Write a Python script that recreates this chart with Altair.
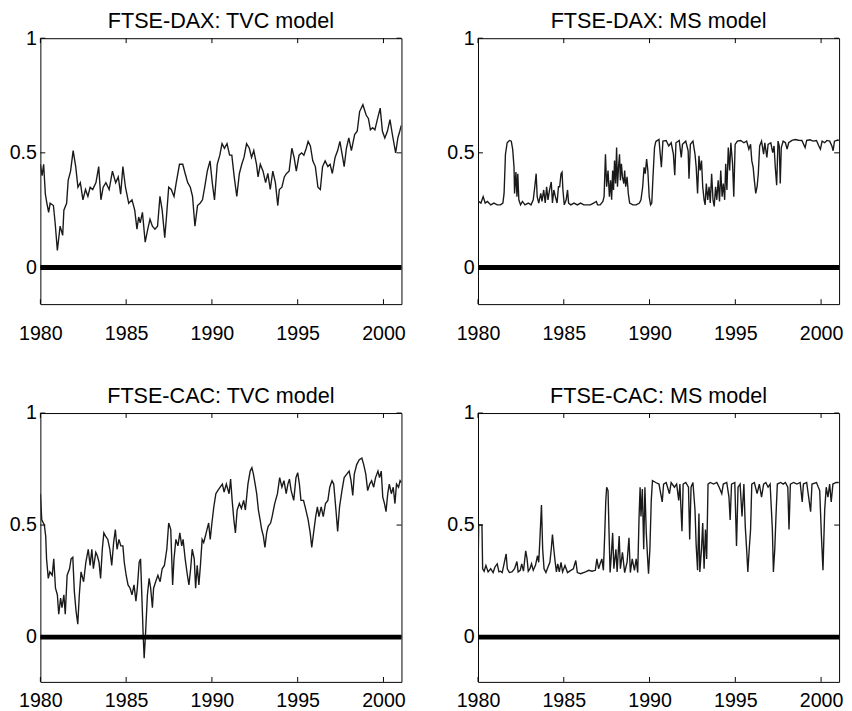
import altair as alt
import pandas as pd

FONT = "Liberation Sans"

# ---------------- data (year, value) ----------------
dax_tvc_points = [
    (1980.00, 0.45), (1980.10, 0.40), (1980.19, 0.45), (1980.29, 0.32), (1980.38, 0.28),
    (1980.48, 0.24), (1980.57, 0.28), (1980.76, 0.27), (1980.86, 0.195), (1980.99, 0.074),
    (1981.15, 0.18), (1981.30, 0.14), (1981.37, 0.25), (1981.53, 0.28), (1981.62, 0.38),
    (1981.76, 0.42), (1981.91, 0.51), (1982.06, 0.44), (1982.19, 0.35), (1982.33, 0.37),
    (1982.48, 0.295), (1982.63, 0.34), (1982.77, 0.31), (1982.90, 0.35), (1983.05, 0.34),
    (1983.24, 0.37), (1983.40, 0.44), (1983.53, 0.295), (1983.66, 0.35), (1983.82, 0.37),
    (1984.01, 0.34), (1984.20, 0.42), (1984.39, 0.37), (1984.54, 0.395), (1984.68, 0.32),
    (1984.81, 0.44), (1984.96, 0.35), (1985.15, 0.28), (1985.34, 0.295), (1985.50, 0.25),
    (1985.63, 0.167), (1985.73, 0.22), (1985.82, 0.195), (1985.95, 0.24), (1986.11, 0.11),
    (1986.26, 0.167), (1986.39, 0.21), (1986.53, 0.18), (1986.68, 0.167), (1986.83, 0.18),
    (1986.97, 0.31), (1987.10, 0.25), (1987.25, 0.13), (1987.35, 0.22), (1987.48, 0.35),
    (1987.63, 0.34), (1987.79, 0.31), (1987.92, 0.37), (1988.11, 0.45), (1988.30, 0.45),
    (1988.44, 0.41), (1988.59, 0.37), (1988.74, 0.35), (1988.87, 0.31), (1989.01, 0.18),
    (1989.16, 0.27), (1989.31, 0.28), (1989.45, 0.295), (1989.58, 0.35), (1989.73, 0.42),
    (1989.89, 0.465), (1990.02, 0.37), (1990.15, 0.295), (1990.31, 0.45), (1990.46, 0.49),
    (1990.59, 0.54), (1990.73, 0.52), (1990.88, 0.54), (1991.03, 0.49), (1991.16, 0.49),
    (1991.30, 0.395), (1991.45, 0.31), (1991.60, 0.41), (1991.74, 0.45), (1991.87, 0.48),
    (1992.02, 0.54), (1992.18, 0.52), (1992.31, 0.48), (1992.44, 0.51), (1992.60, 0.45),
    (1992.69, 0.395), (1992.82, 0.45), (1992.98, 0.42), (1993.13, 0.37), (1993.26, 0.41),
    (1993.40, 0.34), (1993.55, 0.42), (1993.70, 0.37), (1993.84, 0.27), (1993.93, 0.34),
    (1994.08, 0.35), (1994.22, 0.395), (1994.35, 0.41), (1994.50, 0.42), (1994.66, 0.52),
    (1994.79, 0.48), (1994.92, 0.42), (1995.08, 0.49), (1995.23, 0.50), (1995.36, 0.49),
    (1995.50, 0.52), (1995.61, 0.55), (1995.74, 0.53), (1995.88, 0.465), (1996.03, 0.44),
    (1996.18, 0.35), (1996.32, 0.34), (1996.45, 0.44), (1996.60, 0.465), (1996.76, 0.44),
    (1996.89, 0.45), (1997.02, 0.41), (1997.18, 0.48), (1997.33, 0.51), (1997.46, 0.55),
    (1997.60, 0.49), (1997.71, 0.44), (1997.84, 0.52), (1997.98, 0.565), (1998.13, 0.51),
    (1998.32, 0.58), (1998.47, 0.594), (1998.61, 0.68), (1998.80, 0.71), (1998.99, 0.665),
    (1999.12, 0.65), (1999.24, 0.60), (1999.37, 0.61), (1999.50, 0.60), (1999.66, 0.65),
    (1999.81, 0.695), (1999.94, 0.594), (2000.08, 0.565), (2000.23, 0.594), (2000.38, 0.645),
    (2000.52, 0.58), (2000.71, 0.50), (2000.84, 0.565), (2000.95, 0.594), (2001.04, 0.62),
]

dax_ms_points = [
    (1980.00, 0.288), (1980.04, 0.288), (1980.17, 0.281), (1980.30, 0.309), (1980.42, 0.281),
    (1980.55, 0.288), (1980.74, 0.273), (1980.93, 0.281), (1981.12, 0.273), (1981.31, 0.273),
    (1981.45, 0.281), (1981.52, 0.323), (1981.60, 0.494), (1981.70, 0.544), (1981.83, 0.554),
    (1981.94, 0.551), (1982.02, 0.516), (1982.10, 0.437), (1982.13, 0.323), (1982.21, 0.416),
    (1982.27, 0.309), (1982.32, 0.409), (1982.38, 0.295), (1982.48, 0.273), (1982.59, 0.288),
    (1982.74, 0.273), (1982.93, 0.281), (1983.09, 0.273), (1983.22, 0.295), (1983.31, 0.352),
    (1983.39, 0.409), (1983.45, 0.309), (1983.54, 0.281), (1983.66, 0.323), (1983.73, 0.288),
    (1983.83, 0.338), (1983.92, 0.281), (1984.00, 0.352), (1984.08, 0.295), (1984.17, 0.338),
    (1984.27, 0.373), (1984.34, 0.281), (1984.42, 0.338), (1984.51, 0.309), (1984.61, 0.281),
    (1984.69, 0.352), (1984.76, 0.352), (1984.84, 0.409), (1984.90, 0.416), (1984.95, 0.338),
    (1985.03, 0.273), (1985.14, 0.295), (1985.22, 0.338), (1985.28, 0.281), (1985.41, 0.273),
    (1985.60, 0.281), (1985.79, 0.273), (1985.98, 0.281), (1986.17, 0.273), (1986.36, 0.273),
    (1986.55, 0.273), (1986.74, 0.281), (1986.90, 0.288), (1986.97, 0.273), (1987.12, 0.273),
    (1987.28, 0.288), (1987.35, 0.309), (1987.43, 0.494), (1987.50, 0.352), (1987.58, 0.423),
    (1987.66, 0.309), (1987.73, 0.380), (1987.79, 0.295), (1987.85, 0.423), (1987.90, 0.338),
    (1987.96, 0.466), (1988.02, 0.366), (1988.08, 0.523), (1988.13, 0.352), (1988.19, 0.437),
    (1988.25, 0.494), (1988.30, 0.380), (1988.36, 0.452), (1988.42, 0.395), (1988.50, 0.366),
    (1988.55, 0.423), (1988.61, 0.352), (1988.69, 0.395), (1988.76, 0.323), (1988.84, 0.281),
    (1989.03, 0.273), (1989.22, 0.273), (1989.41, 0.281), (1989.50, 0.295), (1989.60, 0.352),
    (1989.68, 0.437), (1989.75, 0.409), (1989.83, 0.473), (1989.90, 0.423), (1989.98, 0.309),
    (1990.06, 0.273), (1990.13, 0.281), (1990.21, 0.409), (1990.29, 0.523), (1990.36, 0.548),
    (1990.40, 0.551), (1990.55, 0.558), (1990.69, 0.437), (1990.78, 0.551), (1990.97, 0.554),
    (1991.12, 0.530), (1991.26, 0.544), (1991.39, 0.494), (1991.47, 0.402), (1991.54, 0.544),
    (1991.73, 0.554), (1991.85, 0.480), (1991.92, 0.537), (1992.11, 0.551), (1992.25, 0.509),
    (1992.30, 0.387), (1992.38, 0.537), (1992.53, 0.551), (1992.65, 0.494), (1992.72, 0.437),
    (1992.80, 0.323), (1992.88, 0.487), (1992.95, 0.423), (1993.03, 0.466), (1993.10, 0.352),
    (1993.18, 0.295), (1993.24, 0.273), (1993.31, 0.366), (1993.39, 0.295), (1993.47, 0.352),
    (1993.54, 0.281), (1993.62, 0.409), (1993.70, 0.295), (1993.77, 0.266), (1993.85, 0.352),
    (1993.92, 0.295), (1994.00, 0.380), (1994.08, 0.288), (1994.15, 0.423), (1994.23, 0.309),
    (1994.30, 0.366), (1994.38, 0.295), (1994.44, 0.452), (1994.51, 0.338), (1994.59, 0.523),
    (1994.67, 0.423), (1994.74, 0.544), (1994.84, 0.452), (1994.91, 0.309), (1994.99, 0.537),
    (1995.12, 0.551), (1995.31, 0.554), (1995.50, 0.544), (1995.66, 0.551), (1995.79, 0.516),
    (1995.89, 0.537), (1995.96, 0.466), (1996.04, 0.437), (1996.11, 0.380), (1996.19, 0.323),
    (1996.27, 0.352), (1996.34, 0.409), (1996.42, 0.530), (1996.53, 0.551), (1996.65, 0.494),
    (1996.72, 0.544), (1996.84, 0.480), (1996.91, 0.537), (1997.07, 0.544), (1997.18, 0.501),
    (1997.26, 0.530), (1997.33, 0.437), (1997.41, 0.359), (1997.49, 0.551), (1997.56, 0.530),
    (1997.62, 0.366), (1997.68, 0.523), (1997.79, 0.551), (1997.92, 0.544), (1998.02, 0.516),
    (1998.11, 0.544), (1998.30, 0.554), (1998.50, 0.558), (1998.69, 0.555), (1998.88, 0.554),
    (1999.07, 0.523), (1999.16, 0.554), (1999.35, 0.557), (1999.54, 0.551), (1999.73, 0.554),
    (1999.87, 0.530), (1999.96, 0.516), (2000.06, 0.551), (2000.21, 0.544), (2000.34, 0.554),
    (2000.50, 0.551), (2000.63, 0.530), (2000.70, 0.509), (2000.78, 0.551), (2000.97, 0.556),
    (2001.04, 0.554),
]

cac_tvc_points = [
    (1980.00, 0.640), (1980.08, 0.523), (1980.23, 0.501), (1980.31, 0.451), (1980.36, 0.349),
    (1980.46, 0.262), (1980.55, 0.291), (1980.69, 0.276), (1980.78, 0.349), (1980.88, 0.218),
    (1980.99, 0.189), (1981.07, 0.102), (1981.18, 0.174), (1981.26, 0.131), (1981.37, 0.189),
    (1981.45, 0.102), (1981.56, 0.276), (1981.70, 0.305), (1981.79, 0.349), (1981.89, 0.356),
    (1981.98, 0.203), (1982.08, 0.116), (1982.18, 0.058), (1982.27, 0.189), (1982.37, 0.291),
    (1982.52, 0.247), (1982.65, 0.334), (1982.79, 0.392), (1982.90, 0.320), (1983.00, 0.392),
    (1983.09, 0.305), (1983.23, 0.378), (1983.32, 0.363), (1983.42, 0.334), (1983.51, 0.262),
    (1983.61, 0.392), (1983.70, 0.465), (1983.80, 0.451), (1983.93, 0.436), (1984.05, 0.392),
    (1984.16, 0.320), (1984.27, 0.422), (1984.37, 0.480), (1984.47, 0.392), (1984.58, 0.436),
    (1984.69, 0.407), (1984.81, 0.407), (1984.89, 0.334), (1985.00, 0.276), (1985.11, 0.233),
    (1985.23, 0.218), (1985.34, 0.189), (1985.46, 0.233), (1985.57, 0.160), (1985.65, 0.218),
    (1985.76, 0.334), (1985.84, 0.349), (1985.92, 0.174), (1985.99, 0.015), (1986.05, -0.094),
    (1986.13, 0.015), (1986.24, 0.189), (1986.34, 0.262), (1986.43, 0.218), (1986.53, 0.131),
    (1986.60, 0.218), (1986.72, 0.247), (1986.85, 0.276), (1986.98, 0.247), (1987.10, 0.305),
    (1987.23, 0.320), (1987.37, 0.392), (1987.48, 0.509), (1987.60, 0.480), (1987.71, 0.233),
    (1987.79, 0.349), (1987.90, 0.436), (1988.02, 0.407), (1988.13, 0.465), (1988.24, 0.407),
    (1988.32, 0.436), (1988.44, 0.349), (1988.57, 0.276), (1988.66, 0.233), (1988.76, 0.305),
    (1988.85, 0.392), (1988.97, 0.349), (1989.05, 0.218), (1989.14, 0.320), (1989.24, 0.233),
    (1989.33, 0.320), (1989.43, 0.436), (1989.52, 0.422), (1989.62, 0.451), (1989.71, 0.480),
    (1989.81, 0.509), (1989.90, 0.436), (1990.00, 0.509), (1990.11, 0.581), (1990.23, 0.640),
    (1990.34, 0.654), (1990.48, 0.669), (1990.61, 0.683), (1990.71, 0.647), (1990.84, 0.683),
    (1991.00, 0.640), (1991.09, 0.705), (1991.18, 0.610), (1991.28, 0.523), (1991.37, 0.465),
    (1991.47, 0.567), (1991.60, 0.596), (1991.72, 0.574), (1991.85, 0.610), (1991.95, 0.567),
    (1992.10, 0.683), (1992.23, 0.741), (1992.33, 0.756), (1992.42, 0.727), (1992.52, 0.683),
    (1992.61, 0.640), (1992.71, 0.567), (1992.81, 0.523), (1992.90, 0.480), (1993.00, 0.451),
    (1993.09, 0.400), (1993.19, 0.465), (1993.28, 0.494), (1993.42, 0.509), (1993.51, 0.538),
    (1993.66, 0.596), (1993.82, 0.640), (1993.95, 0.712), (1994.08, 0.669), (1994.20, 0.698),
    (1994.33, 0.640), (1994.43, 0.683), (1994.52, 0.705), (1994.62, 0.654), (1994.77, 0.610),
    (1994.90, 0.712), (1995.00, 0.734), (1995.10, 0.683), (1995.19, 0.610), (1995.34, 0.610),
    (1995.48, 0.567), (1995.61, 0.523), (1995.73, 0.465), (1995.82, 0.400), (1995.95, 0.480),
    (1996.05, 0.538), (1996.15, 0.581), (1996.24, 0.538), (1996.37, 0.581), (1996.49, 0.538),
    (1996.62, 0.596), (1996.76, 0.610), (1996.87, 0.669), (1997.00, 0.698), (1997.10, 0.683),
    (1997.23, 0.567), (1997.33, 0.472), (1997.44, 0.581), (1997.58, 0.654), (1997.71, 0.712),
    (1997.86, 0.727), (1998.00, 0.741), (1998.11, 0.698), (1998.21, 0.632), (1998.30, 0.727),
    (1998.44, 0.770), (1998.59, 0.792), (1998.74, 0.799), (1998.85, 0.770), (1998.97, 0.727),
    (1999.08, 0.654), (1999.20, 0.683), (1999.31, 0.698), (1999.43, 0.669), (1999.54, 0.712),
    (1999.68, 0.741), (1999.77, 0.712), (1999.87, 0.741), (1999.96, 0.625), (2000.06, 0.596),
    (2000.15, 0.560), (2000.25, 0.640), (2000.34, 0.683), (2000.46, 0.640), (2000.57, 0.669),
    (2000.67, 0.596), (2000.76, 0.683), (2000.88, 0.669), (2000.97, 0.698), (2001.04, 0.690),
]

cac_ms_points = [
    (1980.00, 0.288), (1980.04, 0.501), (1980.23, 0.501), (1980.27, 0.305), (1980.36, 0.294),
    (1980.46, 0.320), (1980.59, 0.291), (1980.74, 0.305), (1980.88, 0.288), (1980.99, 0.313),
    (1981.12, 0.327), (1981.22, 0.291), (1981.31, 0.294), (1981.41, 0.288), (1981.50, 0.320),
    (1981.64, 0.371), (1981.71, 0.305), (1981.83, 0.288), (1981.98, 0.291), (1982.13, 0.305),
    (1982.27, 0.337), (1982.34, 0.291), (1982.46, 0.298), (1982.55, 0.327), (1982.65, 0.294),
    (1982.78, 0.385), (1982.86, 0.349), (1982.93, 0.294), (1983.03, 0.305), (1983.12, 0.327),
    (1983.22, 0.298), (1983.35, 0.320), (1983.47, 0.363), (1983.54, 0.334), (1983.60, 0.422),
    (1983.70, 0.589), (1983.77, 0.392), (1983.85, 0.305), (1983.96, 0.288), (1984.08, 0.313),
    (1984.19, 0.334), (1984.27, 0.392), (1984.34, 0.458), (1984.42, 0.392), (1984.50, 0.334),
    (1984.57, 0.291), (1984.65, 0.327), (1984.74, 0.291), (1984.84, 0.334), (1984.93, 0.291),
    (1985.07, 0.320), (1985.22, 0.288), (1985.41, 0.298), (1985.56, 0.305), (1985.70, 0.342),
    (1985.79, 0.288), (1985.98, 0.283), (1986.27, 0.291), (1986.46, 0.298), (1986.65, 0.294),
    (1986.84, 0.298), (1986.93, 0.349), (1987.03, 0.305), (1987.12, 0.327), (1987.22, 0.349),
    (1987.31, 0.298), (1987.39, 0.465), (1987.45, 0.610), (1987.50, 0.669), (1987.58, 0.654),
    (1987.64, 0.465), (1987.70, 0.288), (1987.77, 0.363), (1987.85, 0.465), (1987.92, 0.305),
    (1988.04, 0.392), (1988.11, 0.291), (1988.23, 0.451), (1988.30, 0.305), (1988.42, 0.378),
    (1988.55, 0.288), (1988.69, 0.334), (1988.80, 0.443), (1988.88, 0.288), (1988.99, 0.349),
    (1989.12, 0.298), (1989.22, 0.349), (1989.31, 0.288), (1989.39, 0.538), (1989.45, 0.669),
    (1989.50, 0.538), (1989.58, 0.661), (1989.66, 0.392), (1989.73, 0.669), (1989.81, 0.465),
    (1989.89, 0.349), (1989.94, 0.283), (1990.02, 0.392), (1990.10, 0.610), (1990.17, 0.698),
    (1990.36, 0.690), (1990.55, 0.683), (1990.74, 0.603), (1990.82, 0.683), (1990.97, 0.690),
    (1991.16, 0.640), (1991.26, 0.690), (1991.45, 0.669), (1991.58, 0.683), (1991.70, 0.610),
    (1991.77, 0.683), (1991.89, 0.472), (1991.96, 0.683), (1992.11, 0.690), (1992.27, 0.669),
    (1992.34, 0.436), (1992.42, 0.669), (1992.53, 0.690), (1992.65, 0.567), (1992.72, 0.407),
    (1992.80, 0.298), (1992.88, 0.552), (1992.93, 0.291), (1993.03, 0.392), (1993.10, 0.509),
    (1993.18, 0.305), (1993.26, 0.480), (1993.33, 0.349), (1993.41, 0.683), (1993.54, 0.690),
    (1993.73, 0.683), (1993.92, 0.690), (1994.06, 0.669), (1994.21, 0.640), (1994.30, 0.683),
    (1994.50, 0.690), (1994.63, 0.625), (1994.70, 0.523), (1994.78, 0.683), (1994.97, 0.690),
    (1995.07, 0.407), (1995.16, 0.669), (1995.28, 0.683), (1995.39, 0.538), (1995.50, 0.683),
    (1995.58, 0.494), (1995.66, 0.392), (1995.73, 0.291), (1995.81, 0.392), (1995.89, 0.480),
    (1995.96, 0.683), (1996.11, 0.690), (1996.27, 0.640), (1996.40, 0.683), (1996.53, 0.625),
    (1996.65, 0.683), (1996.78, 0.690), (1996.91, 0.669), (1997.03, 0.683), (1997.16, 0.480),
    (1997.22, 0.291), (1997.30, 0.392), (1997.37, 0.538), (1997.45, 0.683), (1997.64, 0.690),
    (1997.79, 0.683), (1997.92, 0.690), (1998.06, 0.669), (1998.13, 0.480), (1998.21, 0.683),
    (1998.40, 0.690), (1998.59, 0.683), (1998.78, 0.690), (1998.90, 0.603), (1998.97, 0.683),
    (1999.16, 0.690), (1999.39, 0.560), (1999.47, 0.683), (1999.73, 0.690), (1999.92, 0.654),
    (2000.02, 0.451), (2000.11, 0.298), (2000.21, 0.567), (2000.30, 0.669), (2000.40, 0.625),
    (2000.50, 0.683), (2000.59, 0.603), (2000.69, 0.683), (2000.88, 0.690), (2001.03, 0.690),
]

panel_titles = ["FTSE-DAX: TVC model", "FTSE-DAX: MS model",
                "FTSE-CAC: TVC model", "FTSE-CAC: MS model"]
x_tick_years = [1980, 1985, 1990, 1995, 2000]
y_tick_values = [0, 0.5, 1]
zero_level = [0.0]
x_domain = [1980, 2001.05]

# ---------------- layout / style ----------------
W = 368
TICK = 5
LABEL_SIZE = 20


def panel(points, title, ymin, h, xpad):
    xs = alt.Scale(domain=x_domain, nice=False, zero=False)
    ys = alt.Scale(domain=[ymin, 1], nice=False, zero=False)
    xaxis = alt.Axis(values=x_tick_years, format="d", title=None, grid=False,
                     ticks=False, domain=False, labelFlush=False, labelPadding=xpad,
                     labelFontSize=LABEL_SIZE, labelColor="black", labelFont=FONT)
    yaxis = alt.Axis(values=y_tick_values, format=".1~f", title=None, grid=False,
                     ticks=False, domain=False, labelPadding=4,
                     labelFontSize=LABEL_SIZE, labelColor="black", labelFont=FONT)
    X = lambda: alt.X("year:Q", scale=xs, axis=xaxis)
    Y = lambda: alt.Y("value:Q", scale=ys, axis=yaxis)

    df = pd.DataFrame(points, columns=["year", "value"])
    line = alt.Chart(df).mark_line(color="#1a1a1a", strokeWidth=1.4, clip=True).encode(
        x=X(), y=Y())
    zero = alt.Chart(pd.DataFrame({"value": zero_level})).mark_rule(
        color="black", strokeWidth=5).encode(y=Y())

    xt = pd.DataFrame({"year": x_tick_years})
    yt = pd.DataFrame({"value": y_tick_values})
    top_ticks = alt.Chart(xt).mark_rule(color="black", strokeWidth=1).encode(
        x=X(), y=alt.value(0), y2=alt.value(TICK))
    bottom_ticks = alt.Chart(xt).mark_rule(color="black", strokeWidth=1).encode(
        x=X(), y=alt.value(h), y2=alt.value(h - TICK))
    left_ticks = alt.Chart(yt).mark_rule(color="black", strokeWidth=1).encode(
        y=Y(), x=alt.value(0), x2=alt.value(TICK))
    right_ticks = alt.Chart(yt).mark_rule(color="black", strokeWidth=1).encode(
        y=Y(), x=alt.value(W - TICK), x2=alt.value(W))

    return alt.layer(line, zero, top_ticks, bottom_ticks, left_ticks, right_ticks).properties(
        width=W, height=h,
        title=alt.TitleParams(title, fontSize=22, font=FONT, fontWeight="normal",
                              color="black", anchor="middle", frame="group", offset=-5))


p1 = panel(dax_tvc_points, panel_titles[0], -0.16, 271, 20)
p2 = panel(dax_ms_points, panel_titles[1], -0.16, 271, 20)
p3 = panel(cac_tvc_points, panel_titles[2], -0.2, 274, 9)
p4 = panel(cac_ms_points, panel_titles[3], -0.2, 274, 9)

top_row = alt.hconcat(p1, p2, spacing=40)
bottom_row = alt.hconcat(p3, p4, spacing=40)

chart = alt.vconcat(top_row, bottom_row, spacing=41).properties(
    padding={"left": 0, "top": -5, "right": 0, "bottom": 0}, background="white"
).configure(font=FONT).configure_view(stroke="black", strokeWidth=1)

chart.save("out.html", embed_options={"renderer": "svg", "actions": False})
